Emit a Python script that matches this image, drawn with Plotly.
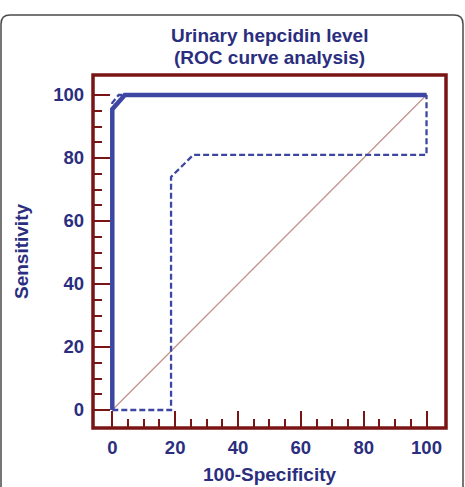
import plotly.graph_objects as go

# ROC curve data (100-Specificity, Sensitivity)
roc_x = [0, 0, 4, 100]
roc_y = [0, 95.5, 100, 100]

upper_x = [0, 0, 2, 100]
upper_y = [0, 97.5, 100, 100]

lower_x = [0, 18.7, 18.7, 25.8, 100, 100]
lower_y = [0, 0, 74, 81, 81, 100]

diag_x = [0, 100]
diag_y = [0, 100]

major_ticks = [0, 20, 40, 60, 80, 100]
minor_ticks = [5, 10, 15, 25, 30, 35, 45, 50, 55, 65, 70, 75, 85, 90, 95]

title_lines = ["Urinary hepcidin level", "(ROC curve analysis)"]
x_title = "100-Specificity"
y_title = "Sensitivity"

BLUE_TXT = "#2b2e7e"
BLUE_LINE = "#3d46a3"
FRAME = "#7a1515"
FONT = "Liberation Sans"

fig = go.Figure()
fig.add_trace(go.Scatter(x=diag_x, y=diag_y, mode="lines",
                         line=dict(color="#c4908c", width=1.2), hoverinfo="skip"))
fig.add_trace(go.Scatter(x=upper_x, y=upper_y, mode="lines",
                         line=dict(color=BLUE_LINE, width=2.3, dash="6px,3px")))
fig.add_trace(go.Scatter(x=lower_x, y=lower_y, mode="lines",
                         line=dict(color=BLUE_LINE, width=2.3, dash="6px,3px")))
fig.add_trace(go.Scatter(x=roc_x, y=roc_y, mode="lines",
                         line=dict(color=BLUE_LINE, width=4.5)))

W, H = 465, 487
L, R, T, B = 93, 19, 75, 59
pw, ph = W - L - R, H - T - B

def px(xp):
    return (xp - L) / pw

def py(yp):
    return (H - B - yp) / ph

# outer rounded box (pixel coordinates converted to paper)
x0, x1, y0, y1, r = 1, 463, 15, 520, 9
path = (f"M {px(x0)},{py(y0 + r)} Q {px(x0)},{py(y0)} {px(x0 + r)},{py(y0)} "
        f"L {px(x1 - r)},{py(y0)} Q {px(x1)},{py(y0)} {px(x1)},{py(y0 + r)} "
        f"L {px(x1)},{py(y1)} L {px(x0)},{py(y1)} Z")

tfont = dict(family=FONT, size=19, color=BLUE_TXT, weight="bold")
annotations = [
    dict(text=title_lines[0], xref="paper", yref="paper", x=0.5, y=py(35),
         xanchor="center", yanchor="middle", showarrow=False, font=tfont),
    dict(text=title_lines[1], xref="paper", yref="paper", x=0.5, y=py(58),
         xanchor="center", yanchor="middle", showarrow=False, font=tfont),
    dict(text=x_title, xref="paper", yref="paper", x=0.5, y=py(474),
         xanchor="center", yanchor="middle", showarrow=False, font=tfont),
    dict(text=y_title, xref="paper", yref="paper", x=px(21), y=py(252),
         xanchor="center", yanchor="middle", showarrow=False, font=tfont,
         textangle=-90),
]

fig.update_layout(
    width=W, height=H,
    margin=dict(l=L, r=R, t=T, b=B),
    paper_bgcolor="white", plot_bgcolor="white",
    showlegend=False,
    annotations=annotations,
    shapes=[
        dict(type="path", xref="paper", yref="paper", path=path,
             line=dict(color="#4a4a4a", width=1.5), layer="below"),
        dict(type="rect", xref="paper", yref="paper", x0=0, y0=0, x1=1, y1=1,
             line=dict(color=FRAME, width=3.5)),
    ],
)

axis_common = dict(
    showgrid=False, zeroline=False, showline=False,
    ticks="inside", ticklen=17, tickwidth=2.2, tickcolor=FRAME,
    tickvals=major_ticks,
    tickfont=dict(family=FONT, size=18.5, color=BLUE_TXT, weight="bold"),
    minor=dict(tickvals=minor_ticks, ticks="inside", ticklen=9, tickwidth=2.2,
               tickcolor=FRAME, showgrid=False),
)

fig.update_xaxes(range=[-6.14, 106.2], ticklabelstandoff=6, **axis_common)
fig.update_yaxes(range=[-5.71, 106.35], ticklabelstandoff=8, **axis_common)

fig.write_html("out.html")
